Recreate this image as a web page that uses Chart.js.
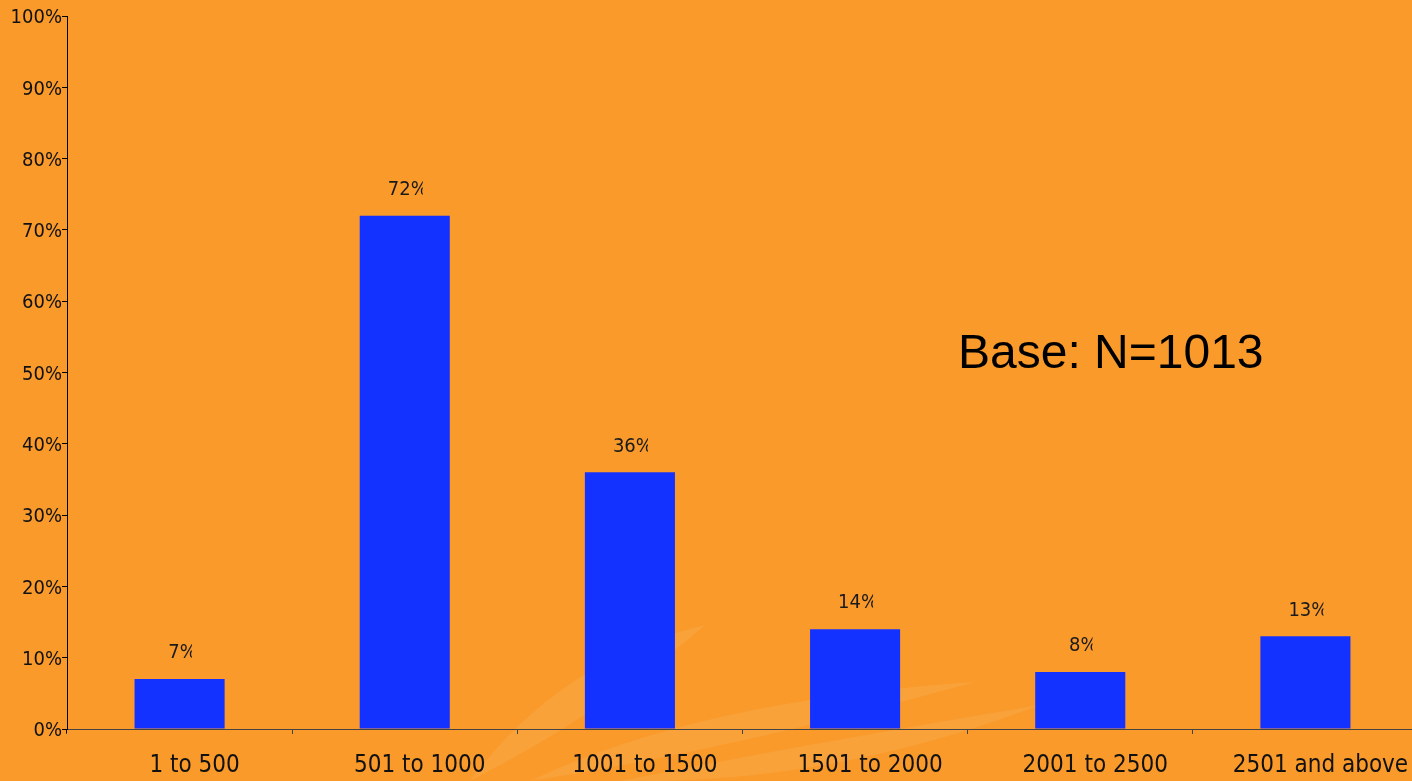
<!DOCTYPE html>
<html>
<head>
<meta charset="utf-8">
<script src="https://cdn.jsdelivr.net/npm/chart.js@4"></script>
<style>
  html, body { margin: 0; padding: 0; overflow: hidden; background: #F99A2B; }
  canvas { display: block; }
</style>
</head>
<body>
<canvas id="chart" width="1418" height="781"></canvas>
<script>
  // Data
  const categories = ['1 to 500', '501 to 1000', '1001 to 1500', '1501 to 2000', '2001 to 2500', '2501 and above'];
  const shares = [7, 72, 36, 14, 8, 13];
  const yTicks = [0, 10, 20, 30, 40, 50, 60, 70, 80, 90, 100];
  const baseNote = 'Base: N=1013';

  const FONT = '"DejaVu Sans Condensed", "DejaVu Sans"';

  // Background with the faint swoosh
  const background = {
    id: 'background',
    beforeDraw(chart) {
      const ctx = chart.ctx;
      ctx.save();
      ctx.fillStyle = '#F99A2B';
      ctx.fillRect(0, 0, chart.width, chart.height);
      ctx.fillStyle = 'rgba(255, 220, 160, 0.13)';
      const streaks = [
        [[470, 781], [560, 660], [705, 625], [600, 715]],
        [[530, 781], [700, 700], [975, 682], [730, 750]],
        [[620, 781], [800, 745], [1040, 705], [830, 785]]
      ];
      streaks.forEach(([a, c1, b, c2]) => {
        ctx.beginPath();
        ctx.moveTo(a[0], a[1]);
        ctx.quadraticCurveTo(c1[0], c1[1], b[0], b[1]);
        ctx.quadraticCurveTo(c2[0], c2[1], a[0], a[1]);
        ctx.fill();
      });
      ctx.restore();
    }
  };

  // Value labels above bars (the % sign is cut off like in the original)
  const barLabels = {
    id: 'barLabels',
    afterDatasetsDraw(chart) {
      const ctx = chart.ctx;
      const meta = chart.getDatasetMeta(0);
      ctx.save();
      ctx.font = '20px ' + FONT;
      ctx.fillStyle = '#1a1a1a';
      ctx.textAlign = 'center';
      ctx.textBaseline = 'middle';
      meta.data.forEach((bar, i) => {
        const text = shares[i] + '%';
        const w = ctx.measureText(text).width;
        const cx = bar.x + 3;
        ctx.save();
        ctx.beginPath();
        ctx.rect(cx - w / 2 - 3, bar.y - 45, w - 2, 36);
        ctx.clip();
        ctx.fillText(text, cx, bar.y - 26);
        ctx.restore();
      });
      ctx.restore();
    }
  };

  const baseText = {
    id: 'baseText',
    afterDraw(chart) {
      const ctx = chart.ctx;
      ctx.save();
      ctx.font = '48px "Liberation Sans"';
      ctx.fillStyle = '#000';
      ctx.textAlign = 'left';
      ctx.textBaseline = 'middle';
      ctx.fillText(baseNote, 958, 355);
      // y axis line runs a little below the baseline
      const y = chart.scales.y;
      ctx.strokeStyle = '#000';
      ctx.lineWidth = 1;
      ctx.beginPath();
      ctx.moveTo(y.right - 0.5, chart.chartArea.bottom);
      ctx.lineTo(y.right - 0.5, chart.chartArea.bottom + 4);
      ctx.stroke();
      ctx.restore();
    }
  };

  new Chart(document.getElementById('chart'), {
    type: 'bar',
    data: {
      labels: categories,
      datasets: [{
        data: shares,
        backgroundColor: '#1432FF',
        borderWidth: 0,
        barPercentage: 0.4,
        categoryPercentage: 1
      }]
    },
    options: {
      responsive: false,
      animation: false,
      layout: { padding: { top: 16, left: 0, right: 0, bottom: 0 } },
      plugins: {
        legend: { display: false },
        tooltip: { enabled: false }
      },
      scales: {
        x: {
          afterFit: s => { s.height = 52; },
          border: { color: '#444', width: 1 },
          grid: { drawOnChartArea: false, color: '#444', tickLength: 5, offset: true },
          ticks: {
            padding: 17,
            labelOffset: 15,
            color: '#111',
            font: { family: FONT, size: 24 },
            maxRotation: 0,
            autoSkip: false
          }
        },
        y: {
          min: 0,
          max: 100,
          afterFit: s => { s.width = 67; },
          afterBuildTicks: s => { s.ticks = yTicks.map(v => ({ value: v })); },
          border: { color: '#000', width: 1 },
          grid: { drawOnChartArea: false, color: '#000', tickLength: 5 },
          ticks: {
            padding: 0,
            labelOffset: 2,
            color: '#111',
            font: { family: FONT, size: 20 },
            callback: v => v + '%'
          }
        }
      }
    },
    plugins: [background, barLabels, baseText]
  });
</script>
</body>
</html>
